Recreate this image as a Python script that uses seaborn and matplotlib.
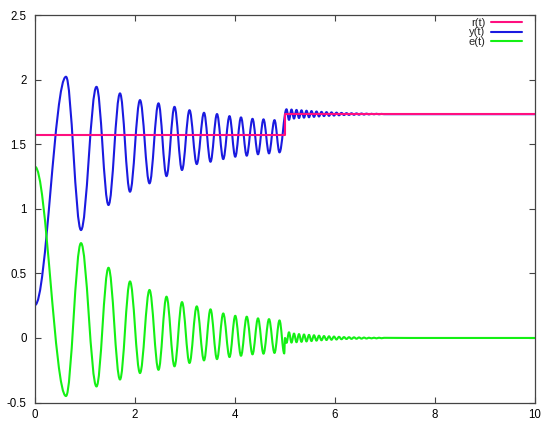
import matplotlib
matplotlib.use("Agg")
import matplotlib.pyplot as plt
from matplotlib.path import Path
from matplotlib.patches import PathPatch
from matplotlib.lines import Line2D
import seaborn as sns

# r(t): reference step
r_t = [0.0, 5.0, 5.0, 10.0]
r_val = [1.572, 1.572, 1.733, 1.733]

# y(t): turning points
y_t = [0.0, 0.62, 0.92, 1.23, 1.47, 1.70, 1.90, 2.10, 2.29, 2.47, 2.63, 2.79, 2.94,
       3.09, 3.235, 3.38, 3.51, 3.64, 3.765, 3.89, 4.005, 4.12, 4.235, 4.35, 4.46,
       4.57, 4.68, 4.79, 4.89,
       5.03, 5.08, 5.13, 5.18, 5.23, 5.28, 5.33, 5.38, 5.43, 5.48, 5.53, 5.58, 5.63,
       5.68, 5.73, 5.78, 5.83, 5.88, 5.93, 5.98, 6.03, 6.08, 6.13, 6.18, 6.23, 6.28,
       6.33, 6.38, 6.43, 6.48, 6.53, 6.58, 6.63, 6.68, 6.73, 6.78, 6.83, 6.88, 6.93,
       6.98, 7.5, 10.0]
y_val = [0.255, 2.024, 0.836, 1.946, 1.03, 1.895, 1.133, 1.843, 1.198, 1.818, 1.254,
         1.791, 1.301, 1.765, 1.347, 1.745, 1.365, 1.735, 1.386, 1.719, 1.404, 1.709,
         1.412, 1.698, 1.423, 1.694, 1.430, 1.688, 1.438,
         1.772, 1.690, 1.770, 1.700, 1.767, 1.704, 1.764, 1.707, 1.761, 1.710, 1.758,
         1.713, 1.755, 1.716, 1.752, 1.719, 1.750, 1.721, 1.748, 1.723, 1.746, 1.725,
         1.744, 1.727, 1.742, 1.728, 1.741, 1.729, 1.740, 1.730, 1.739, 1.731, 1.738,
         1.732, 1.737, 1.733, 1.737, 1.733, 1.736, 1.734, 1.734, 1.734]

# e(t): turning points
e_t = [0.0, 0.62, 0.92, 1.23, 1.47, 1.70, 1.90, 2.10, 2.29, 2.47, 2.63, 2.79, 2.94,
       3.09, 3.235, 3.38, 3.51, 3.64, 3.765, 3.89, 4.005, 4.12, 4.235, 4.35, 4.46,
       4.57, 4.68, 4.79, 4.89, 4.985, 5.0,
       5.03, 5.08, 5.13, 5.18, 5.23, 5.28, 5.33, 5.38, 5.43, 5.48, 5.53, 5.58, 5.63,
       5.68, 5.73, 5.78, 5.83, 5.88, 5.93, 5.98, 6.03, 6.08, 6.13, 6.18, 6.23, 6.28,
       6.33, 6.38, 6.43, 6.48, 6.53, 6.58, 6.63, 6.68, 6.73, 6.78, 6.83, 6.88, 6.93,
       6.98, 7.5, 10.0]
e_val = [1.327, -0.45, 0.735, -0.376, 0.544, -0.322, 0.438, -0.272, 0.372, -0.247,
         0.32, -0.22, 0.278, -0.194, 0.245, -0.174, 0.222, -0.164, 0.19, -0.148, 0.172,
         -0.138, 0.165, -0.127, 0.152, -0.122, 0.146, -0.116, 0.136, -0.12, 0.0,
         -0.038, 0.044, -0.036, 0.034, -0.033, 0.030, -0.030, 0.027, -0.027, 0.024,
         -0.024, 0.021, -0.021, 0.018, -0.018, 0.015, -0.016, 0.013, -0.014, 0.011,
         -0.012, 0.009, -0.010, 0.007, -0.008, 0.006, -0.007, 0.005, -0.006, 0.004,
         -0.005, 0.003, -0.004, 0.002, -0.003, 0.002, -0.003, 0.002, -0.002, 0.001,
         0.0, 0.0]

colors = {"r(t)": "#ff0f7f", "y(t)": "#1a1ae0", "e(t)": "#14f014"}

sns.set_style("ticks")
plt.rcParams["font.family"] = ["Liberation Sans", "DejaVu Sans"]


# smooth curve through the turning points (flat tangent at each one)
def turning_path(ts, vs, k=0.364):
    verts = [(ts[0], vs[0])]
    codes = [Path.MOVETO]
    for i in range(1, len(ts)):
        dt = ts[i] - ts[i - 1]
        verts += [(ts[i - 1] + k * dt, vs[i - 1]), (ts[i] - k * dt, vs[i]), (ts[i], vs[i])]
        codes += [Path.CURVE4] * 3
    return Path(verts, codes)


fig = plt.figure(figsize=(5.5, 4.28), dpi=100)
ax = fig.add_axes([35 / 550, 1 - 402.5 / 428, 500 / 550, 387.2 / 428])

sns.lineplot(x=r_t, y=r_val, ax=ax, color=colors["r(t)"], lw=1.5,
             estimator=None, sort=False)
for name, ts, vs in [("y(t)", y_t, y_val), ("e(t)", e_t, e_val)]:
    ax.add_patch(PathPatch(turning_path(ts, vs), fill=False, edgecolor=colors[name],
                           lw=1.5, joinstyle="round", capstyle="round"))

ax.set_xlim(0, 10)
ax.set_ylim(-0.5, 2.5)
ax.set_xticks([0, 2, 4, 6, 8, 10])
ax.set_xticklabels(["0", "2", "4", "6", "8", "10"])
ax.set_yticks([-0.5, 0, 0.5, 1, 1.5, 2, 2.5])
ax.set_yticklabels(["-0.5", "0", "0.5", "1", "1.5", "2", "2.5"])
ax.tick_params(direction="in", length=4.5, width=0.8, color="#444444",
               top=True, right=True, labelsize=8.3, labelcolor="black")
ax.tick_params(axis="x", pad=5)
ax.tick_params(axis="y", pad=6)
for s in ax.spines.values():
    s.set_color("#444444")
    s.set_linewidth(0.9)

handles = [Line2D([], [], color=colors[n], lw=1.5) for n in ["r(t)", "y(t)", "e(t)"]]
ax.legend(handles, ["r(t)", "y(t)", "e(t)"], loc="upper right", frameon=False,
          markerfirst=False, fontsize=8, labelspacing=-0.05, handlelength=2.8,
          handletextpad=0.5, borderpad=0, borderaxespad=0,
          bbox_to_anchor=(522 / 550, 1 - 18 / 428), bbox_transform=fig.transFigure)

fig.savefig("out.png", dpi=100)
